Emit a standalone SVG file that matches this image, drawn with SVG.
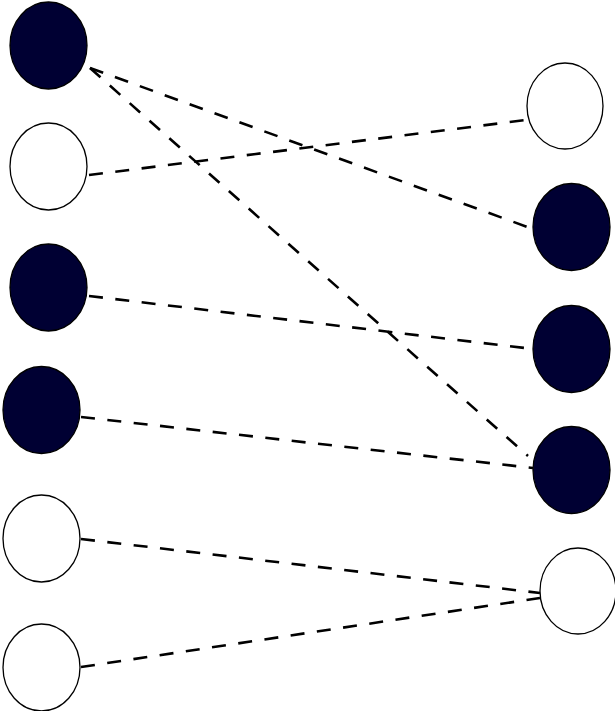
<svg xmlns="http://www.w3.org/2000/svg" width="615" height="711" viewBox="0 0 615 711">
  <style>
    .node { stroke: #000000; stroke-width: 1.3; }
    .on { fill: #000033; }
    .off { fill: #ffffff; }
    .edge { stroke: #000000; stroke-width: 2.6; stroke-dasharray: 14 12.5; fill: none; }
  </style>
  <rect width="615" height="711" fill="#ffffff"/>
  <g id="connectors">
    <line class="edge" x1="90" y1="68" x2="533" y2="229"/>
    <line class="edge" x1="90" y1="68" x2="528" y2="456"/>
    <line class="edge" x1="89" y1="175" x2="526" y2="120"/>
    <line class="edge" x1="89" y1="296" x2="533" y2="349"/>
    <line class="edge" x1="81" y1="417" x2="533" y2="468"/>
    <line class="edge" x1="81" y1="539" x2="540" y2="593"/>
    <line class="edge" x1="81" y1="667" x2="540" y2="598"/>
  </g>
  <g id="left-1"><ellipse class="node on" cx="48.5" cy="45.5" rx="38.5" ry="43.5"/></g>
  <g id="left-2"><ellipse class="node off" cx="48.5" cy="166.5" rx="38.5" ry="43.5"/></g>
  <g id="left-3"><ellipse class="node on" cx="48.5" cy="287.5" rx="38.5" ry="43.5"/></g>
  <g id="left-4"><ellipse class="node on" cx="41.5" cy="410" rx="38.5" ry="43.5"/></g>
  <g id="left-5"><ellipse class="node off" cx="41.5" cy="538.5" rx="38.5" ry="43.5"/></g>
  <g id="left-6"><ellipse class="node off" cx="41.5" cy="667.5" rx="38.5" ry="43.5"/></g>
  <g id="right-1"><ellipse class="node off" cx="565" cy="106" rx="38" ry="43"/></g>
  <g id="right-2"><ellipse class="node on" cx="571.5" cy="227" rx="38.5" ry="43.5"/></g>
  <g id="right-3"><ellipse class="node on" cx="571.5" cy="349" rx="38.5" ry="43.5"/></g>
  <g id="right-4"><ellipse class="node on" cx="571.5" cy="470" rx="38.5" ry="43.5"/></g>
  <g id="right-5"><ellipse class="node off" cx="578" cy="591" rx="38" ry="43"/></g>
</svg>
